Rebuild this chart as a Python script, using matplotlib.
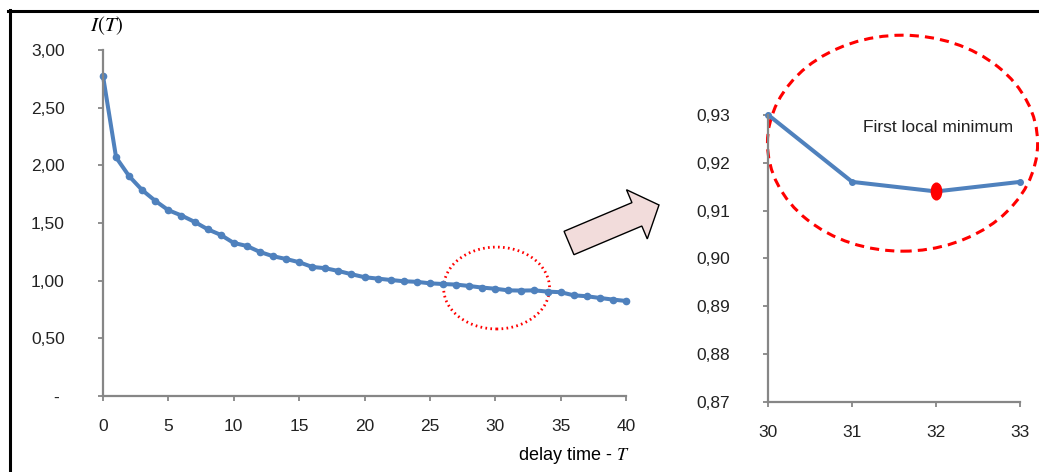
import numpy as np
import matplotlib.pyplot as plt
from matplotlib.patches import Ellipse, FancyArrow
from matplotlib.lines import Line2D
from matplotlib.path import Path
from matplotlib.transforms import Affine2D
from matplotlib.ticker import FuncFormatter

plt.rcParams['font.family'] = ['Liberation Sans Narrow', 'Liberation Sans', 'DejaVu Sans']
plt.rcParams['mathtext.fontset'] = 'stix'

# delay time and I(T)
delay = np.arange(0, 41)
info = [2.775, 2.069, 1.906, 1.785, 1.692, 1.611, 1.565, 1.510, 1.446, 1.397,
        1.327, 1.301, 1.249, 1.212, 1.188, 1.160, 1.119, 1.108, 1.084, 1.056,
        1.030, 1.018, 1.006, 0.995, 0.990, 0.977, 0.971, 0.966, 0.954, 0.940,
        0.930, 0.916, 0.914, 0.916, 0.905, 0.900, 0.873, 0.865, 0.850, 0.836,
        0.824]

# zoomed part
zoom_x = [30, 31, 32, 33]
zoom_y = [0.930, 0.916, 0.914, 0.916]
min_idx = 2

blue = '#4F81BD'
grey = '#868686'

fig = plt.figure(figsize=(10.39, 4.72), dpi=100)

def comma(v, pos, nd):
    if abs(v) < 1e-9 and nd == 2:
        return '- '
    return f'{v:.{nd}f}'.replace('.', ',')

def style(ax):
    for s in ['top', 'right']:
        ax.spines[s].set_visible(False)
    for s in ['left', 'bottom']:
        ax.spines[s].set_color(grey)
        ax.spines[s].set_linewidth(1.6)
    ax.tick_params(colors=grey, labelcolor='#222222', labelsize=12.5, direction='out',
                   length=3.6, width=1.3)
    ax.tick_params(axis='y', pad=24)
    ax.tick_params(axis='x', pad=13)

# left chart
ax1 = fig.add_axes([103/1039, 1-396/472, 523/1039, 346/472])
ax1.plot(delay, info, color=blue, lw=2.9, marker='o', ms=4.5, clip_on=False)
ax1.set_xlim(0, 40)
ax1.set_ylim(0, 3)
ax1.set_xticks(np.arange(0, 41, 5))
ax1.set_yticks(np.arange(0, 3.01, 0.5))
ax1.yaxis.set_major_formatter(FuncFormatter(lambda v, p: comma(v, p, 2)))
style(ax1)
ax1.add_patch(Ellipse((30.1, 0.936), 8.1, 0.71, fill=False, ec='red', lw=2.0,
                      ls=(0, (0.6, 1.2)), clip_on=False))

fig.text(90/1039, 1-26/472, '$I(T)$', fontsize=15, va='center', ha='left')
fig.text(518/1039, 1-456/472, 'delay time - $\\mathbf{\\mathit{T}}$', fontsize=13,
         va='center', ha='left')

# right chart
ax2 = fig.add_axes([768.3/1039, 1-401.7/472, 251.7/1039, 286.7/472])
ax2.plot(zoom_x, zoom_y, color=blue, lw=2.9, marker='o', ms=4, clip_on=False)
ell = Path.unit_circle().transformed(Affine2D().scale(0.62, 1.0))
ax2.plot(zoom_x[min_idx], zoom_y[min_idx], ls='none', marker=ell, ms=12,
         color='red', clip_on=False, zorder=5)
ax2.set_xlim(30, 33)
ax2.set_ylim(0.87, 0.93)
ax2.set_xticks(zoom_x)
ax2.set_yticks(np.arange(0.87, 0.9301, 0.01))
ax2.yaxis.set_major_formatter(FuncFormatter(lambda v, p: comma(v, p, 2)))
style(ax2)
ax2.text(32.02, 0.9273, 'First local minimum', fontsize=12.5, ha='center', va='center',
         color='#222222')
ax2.add_patch(Ellipse((31.6, 0.9241), 3.22, 0.0452, fill=False, ec='red', lw=2.2,
                      ls=(0, (3, 2)), clip_on=False))

# arrow between the charts (inches, y from bottom)
arr = FancyArrow(5.69, 4.72-2.43, 0.90, 0.38, width=0.254, head_width=0.534,
                 head_length=0.24, length_includes_head=True, fc='#F2DCDB', ec='black',
                 lw=1.0, transform=fig.dpi_scale_trans)
fig.patches.append(arr)

# frame
fig.add_artist(Line2D([9.5/1039, 9.5/1039], [0, 1-10/472], color='black', lw=2.2))
fig.add_artist(Line2D([8/1039, 1], [1-11/472, 1-11/472], color='black', lw=2.2))

fig.savefig('out.png', dpi=100)
